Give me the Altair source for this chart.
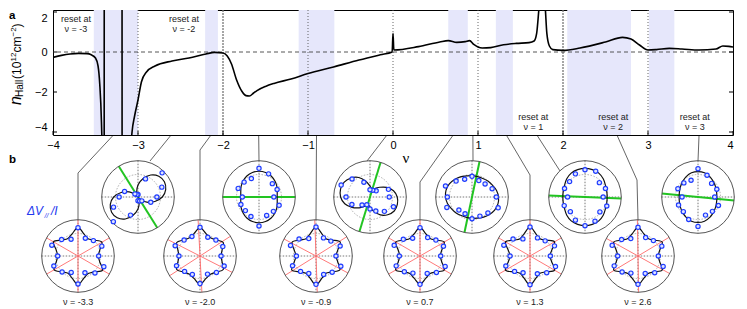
import math
import altair as alt
import pandas as pd

# ---------------- panel a : Hall density vs filling ----------------
NU = [-4.00, -3.90, -3.80, -3.70, -3.60, -3.55, -3.50, -3.47, -3.45, -3.43, -3.41, -3.40, -3.395,
      -3.19, -3.185, -3.10, -3.07, -3.04, -3.00, -2.96, -2.90, -2.80, -2.60, -2.40, -2.20, -2.10,
      -2.00, -1.95, -1.90, -1.84, -1.78, -1.73, -1.69, -1.64, -1.60, -1.50, -1.40, -1.20, -1.00,
      -0.70, -0.40, -0.15, -0.01, 0.00, 0.01, 0.30, 0.55, 0.65, 0.75, 0.85, 0.90, 0.95, 1.00,
      1.05, 1.15, 1.30, 1.45, 1.60, 1.66, 1.69, 1.72, 1.755, 1.79, 1.81, 1.84, 1.88, 2.00, 2.20,
      2.50, 2.70, 2.80, 2.90, 3.00, 3.10, 3.25, 3.40, 3.60, 3.80, 3.88, 3.95, 4.00]
N_HALL = [-0.27, -0.17, -0.10, -0.07, -0.08, -0.14, -0.30, -0.70, -1.60, -3.50, -8.0, -40.0, 40.0,
          40.0, -40.0, -6.0, -4.0, -3.2, -2.4, -1.5, -1.0, -0.70, -0.45, -0.30, -0.10, -0.02,
          -0.05, -0.20, -0.60, -1.40, -1.95, -2.18, -2.20, -2.05, -1.93, -1.72, -1.57, -1.35, -1.08,
          -0.75, -0.40, -0.14, 0.00, 0.93, 0.10, 0.27, 0.50, 0.57, 0.48, 0.52, 0.57, 0.38, 0.25,
          0.20, 0.22, 0.36, 0.43, 0.47, 0.55, 0.93, 2.30, 3.50, 2.30, 0.93, 0.30, 0.12, 0.08, 0.20,
          0.50, 0.73, 0.65, 0.35, 0.10, 0.12, 0.18, 0.15, 0.10, 0.15, 0.30, 0.28, 0.25]

BAND_START = [-3.52, -2.21, -1.11, 0.65, 1.21, 2.05, 3.01]
BAND_END = [-3.00, -2.06, -0.69, 0.88, 1.41, 2.80, 3.31]
GUIDE_NU = [-3, -2, -1, 0, 1, 2, 3]
GUIDE_KIND = ["dot", "dash", "dot", "dot", "dot", "dash", "dot"]
X_TICKS = [-4, -3, -2, -1, 0, 1, 2, 3, 4]
Y_TICKS = [2, 0, -2, -4]
RESET_NU = [-3.73, -2.46, 1.65, 2.59, 3.55]
RESET_LINE2 = ["ν = -3", "ν = -2", "ν = 1", "ν = 2", "ν = 3"]
RESET_N = [1.65, 1.65, -3.25, -3.25, -3.25]

# ---------------- panel b : polar insets (radius / outer radius) ----------------
DOT_ANG = [0, 22.5, 45, 67.5, 90, 112.5, 135, 157.5, 180, 202.5, 225, 247.5, 270, 292.5, 315, 337.5]
CURVE_ANG = [0, 15, 30, 45, 60, 75, 90, 105, 120, 135, 150, 165,
             180, 195, 210, 225, 240, 255, 270, 285, 300, 315, 330, 345]

BOT_LABELS = ["ν = -3.3", "ν = -2.0", "ν = -0.9", "ν = 0.7", "ν = 1.3", "ν = 2.6"]
BOT_RED_TILT = [0, 3, 2, 0, 0, 1]
BOT_CURVES = [
    [0.56, 0.62, 0.76, 0.62, 0.55, 0.63, 0.79, 0.63, 0.56, 0.62, 0.78, 0.62,
     0.56, 0.62, 0.76, 0.62, 0.55, 0.63, 0.79, 0.63, 0.56, 0.62, 0.78, 0.62],
    [0.58, 0.63, 0.74, 0.63, 0.58, 0.64, 0.78, 0.64, 0.58, 0.63, 0.74, 0.63,
     0.58, 0.63, 0.74, 0.63, 0.58, 0.64, 0.78, 0.64, 0.58, 0.63, 0.74, 0.63],
    [0.55, 0.62, 0.77, 0.62, 0.55, 0.63, 0.80, 0.63, 0.55, 0.62, 0.76, 0.62,
     0.55, 0.62, 0.77, 0.62, 0.55, 0.63, 0.80, 0.63, 0.55, 0.62, 0.76, 0.62],
    [0.56, 0.62, 0.77, 0.62, 0.56, 0.63, 0.78, 0.63, 0.56, 0.62, 0.77, 0.62,
     0.56, 0.62, 0.77, 0.62, 0.56, 0.63, 0.78, 0.63, 0.56, 0.62, 0.77, 0.62],
    [0.55, 0.62, 0.78, 0.62, 0.55, 0.63, 0.80, 0.63, 0.55, 0.62, 0.78, 0.62,
     0.55, 0.62, 0.78, 0.62, 0.55, 0.63, 0.80, 0.63, 0.55, 0.62, 0.78, 0.62],
    [0.56, 0.62, 0.77, 0.62, 0.56, 0.63, 0.79, 0.63, 0.56, 0.62, 0.77, 0.62,
     0.56, 0.62, 0.77, 0.62, 0.56, 0.63, 0.79, 0.63, 0.56, 0.62, 0.77, 0.62],
]
BOT_DOTS = [
    [0.57, 0.71, 0.60, 0.53, 0.78, 0.50, 0.64, 0.78, 0.56, 0.72, 0.62, 0.49, 0.77, 0.50, 0.66, 0.77],
    [0.58, 0.68, 0.62, 0.56, 0.79, 0.58, 0.62, 0.74, 0.58, 0.70, 0.60, 0.55, 0.76, 0.54, 0.64, 0.72],
    [0.55, 0.72, 0.58, 0.54, 0.80, 0.52, 0.66, 0.76, 0.54, 0.70, 0.60, 0.52, 0.78, 0.55, 0.63, 0.74],
    [0.57, 0.70, 0.62, 0.55, 0.78, 0.53, 0.65, 0.77, 0.57, 0.71, 0.61, 0.51, 0.78, 0.52, 0.64, 0.75],
    [0.56, 0.73, 0.59, 0.54, 0.80, 0.51, 0.66, 0.78, 0.55, 0.72, 0.60, 0.50, 0.79, 0.53, 0.65, 0.76],
    [0.56, 0.71, 0.60, 0.55, 0.79, 0.52, 0.64, 0.77, 0.56, 0.71, 0.62, 0.51, 0.78, 0.52, 0.65, 0.75],
]

TOP_GREEN = [122, 0, 73, 78, -2.5, -5.5]
TOP_CURVES = [
    [0.67, 0.79, 0.84, 0.81, 0.70, 0.52, 0.33, 0.14, 0.03, 0.10, 0.28, 0.48,
     0.67, 0.79, 0.84, 0.81, 0.70, 0.52, 0.33, 0.14, 0.03, 0.10, 0.28, 0.48],
    [0.50, 0.52, 0.57, 0.62, 0.67, 0.70, 0.71, 0.70, 0.67, 0.62, 0.57, 0.52,
     0.50, 0.52, 0.57, 0.62, 0.67, 0.70, 0.71, 0.70, 0.67, 0.62, 0.57, 0.52],
    [0.75, 0.67, 0.53, 0.38, 0.27, 0.22, 0.30, 0.45, 0.62, 0.74, 0.82, 0.84,
     0.81, 0.72, 0.57, 0.42, 0.30, 0.22, 0.28, 0.41, 0.57, 0.69, 0.77, 0.78],
    [0.73, 0.70, 0.65, 0.62, 0.59, 0.58, 0.59, 0.60, 0.64, 0.68, 0.72, 0.74,
     0.73, 0.70, 0.65, 0.62, 0.59, 0.58, 0.59, 0.60, 0.64, 0.68, 0.72, 0.74],
    [0.61, 0.62, 0.65, 0.71, 0.76, 0.78, 0.79, 0.78, 0.76, 0.71, 0.65, 0.62,
     0.61, 0.62, 0.65, 0.71, 0.76, 0.78, 0.79, 0.78, 0.76, 0.71, 0.65, 0.62],
    [0.52, 0.53, 0.56, 0.60, 0.65, 0.69, 0.70, 0.69, 0.65, 0.60, 0.56, 0.53,
     0.52, 0.53, 0.56, 0.60, 0.65, 0.69, 0.70, 0.69, 0.65, 0.60, 0.56, 0.53],
]
TOP_DOTS = [
    [0.52, 0.71, 0.94, 0.54, 0.07, 0.07, 0.12, 0.40, 0.52, 0.73, 0.96, 0.54, 0.10, 0.12, 0.15, 0.38],
    [0.41, 0.54, 0.52, 0.69, 0.79, 0.55, 0.58, 0.62, 0.46, 0.54, 0.53, 0.58, 0.80, 0.55, 0.56, 0.60],
    [0.53, 0.55, 0.24, 0.20, 0.20, 0.44, 0.70, 0.86, 0.66, 0.54, 0.31, 0.23, 0.33, 0.42, 0.56, 0.70],
    [0.67, 0.60, 0.51, 0.49, 0.57, 0.53, 0.62, 0.79, 0.68, 0.75, 0.51, 0.50, 0.60, 0.57, 0.62, 0.78],
    [0.50, 0.61, 0.56, 0.77, 0.75, 0.69, 0.60, 0.61, 0.48, 0.62, 0.57, 0.69, 0.79, 0.72, 0.58, 0.65],
    [0.46, 0.56, 0.53, 0.65, 0.78, 0.50, 0.55, 0.60, 0.44, 0.58, 0.57, 0.67, 0.81, 0.54, 0.56, 0.61],
]

# axis positions where the insets are attached
BOT_ATTACH_NU = [-3.3, -2.15, -0.9, 0.7, 1.34, 2.64]
TOP_ATTACH_NU = [-2.62, -1.58, -0.08, 0.94, 1.70, 3.60]

# ---------------- layout (pixels on the page) ----------------
PLOT_W, PLOT_H = 680, 125
LEFT, TOP = 53, 10
PX_NU = PLOT_W / 8.0
PX_N = PLOT_H / 6.25
R = 36.3
INNER = 0.62
TOP_CY, BOT_CY = 197, 256
TOP_CX = [138, 259, 370, 472, 585, 698]
BOT_CX = [78, 200, 316, 420, 530, 638]
AXIS_PY = 136
BOT_BEND = [(78, 173), (200, 150), None, (420, 182), (530, 175), (637, 180)]
TOP_END = [(150, 161), (259, 161), (367, 161), (473, 161), (560, 171), (698, 161)]
FONT = "Liberation Sans"


def to_x(px):
    return (px - LEFT) / PX_NU - 4.0


def to_y(py):
    return 2.1 - (py - TOP) / PX_N


def nu_px(nu):
    return LEFT + (nu + 4.0) * PX_NU


XS = alt.Scale(domain=[-4, 4], nice=False, zero=False)
YS = alt.Scale(domain=[-4.15, 2.1], nice=False, zero=False)
XAX = alt.Axis(values=X_TICKS, title=None, grid=False, ticks=False, domain=False,
               labelFont=FONT, labelFontSize=11, labelColor="#000", labelPadding=4,
               labelFlush=False,
               labelAlign={"condition": {"test": "datum.value == 4", "value": "right"}, "value": "center"})
YAX = alt.Axis(values=Y_TICKS, title=None, grid=False, ticks=False, domain=False,
               labelFont=FONT, labelFontSize=11, labelColor="#000", labelPadding=6, labelFlush=3)


def X(f="x"):
    return alt.X(f + ":Q", scale=XS, axis=XAX)


def Y(f="y"):
    return alt.Y(f + ":Q", scale=YS, axis=YAX)


layers = []

# bands
bands = pd.DataFrame({"x": BAND_START, "x2": BAND_END})
layers.append(alt.Chart(bands).mark_rect(color="#e6e7fb").encode(
    x=X(), x2="x2:Q", y=alt.value(0), y2=alt.value(PLOT_H)))

# vertical guides
guides = pd.DataFrame({"x": GUIDE_NU, "kind": GUIDE_KIND})
layers.append(alt.Chart(guides).transform_filter("datum.kind == 'dot'").mark_rule(
    color="#555", strokeWidth=0.9, strokeDash=[1, 2]).encode(x=X()))
layers.append(alt.Chart(guides).transform_filter("datum.kind == 'dash'").mark_rule(
    color="#777", strokeWidth=1.3, strokeDash=[2, 1]).encode(x=X()))

# zero line
layers.append(alt.Chart(pd.DataFrame({"y": [0]})).mark_rule(
    color="#444", strokeWidth=0.9, strokeDash=[4, 3]).encode(y=Y()))

# curve
curve = pd.DataFrame({"x": NU, "y": N_HALL, "i": list(range(len(NU)))})
layers.append(alt.Chart(curve).mark_line(color="#000", strokeWidth=1.6, clip=True,
                                          interpolate="monotone").encode(
    x=X(), y=Y(), order="i:Q"))

# inward ticks
tick_rows = []
for v in Y_TICKS:
    tick_rows.append({"x": -4, "x2": -4 + 4 / PX_NU, "y": v, "y2": v})
    tick_rows.append({"x": 4, "x2": 4 - 4 / PX_NU, "y": v, "y2": v})
for v in X_TICKS:
    tick_rows.append({"x": v, "x2": v, "y": -4.15, "y2": -4.15 + 4 / PX_N})
layers.append(alt.Chart(pd.DataFrame(tick_rows)).mark_rule(color="#000", strokeWidth=1).encode(
    x=X(), x2="x2:Q", y=Y(), y2="y2:Q"))

# reset annotations
reset_rows = []
for nu, t2, n in zip(RESET_NU, RESET_LINE2, RESET_N):
    reset_rows.append({"x": nu, "y": n, "t": "reset at"})
    reset_rows.append({"x": nu, "y": n - 9.5 / PX_N, "t": t2})
layers.append(alt.Chart(pd.DataFrame(reset_rows)).mark_text(
    font=FONT, fontSize=9, color="#222").encode(x=X(), y=Y(), text="t:N"))

# ---------------- insets ----------------
curve_rows, dot_rows, cross_rows, red_rows, green_rows, circ_rows = [], [], [], [], [], []


def polar(cx, cy, r, ang):
    a = math.radians(ang)
    return cx + r * R * math.cos(a), cy - r * R * math.sin(a)


def add_inset(name, cx, cy, cvals, dvals):
    circ_rows.append({"x": to_x(cx), "y": to_y(cy)})
    for k, (a, r) in enumerate(zip(CURVE_ANG, cvals)):
        px, py = polar(cx, cy, r, a)
        curve_rows.append({"plot": name, "i": k, "x": to_x(px), "y": to_y(py)})
    for a, r in zip(DOT_ANG, dvals):
        px, py = polar(cx, cy, r, a)
        dot_rows.append({"x": to_x(px), "y": to_y(py)})
    cross_rows.append({"x": to_x(cx - R), "x2": to_x(cx + R), "y": to_y(cy), "y2": to_y(cy)})
    cross_rows.append({"x": to_x(cx), "x2": to_x(cx), "y": to_y(cy - R), "y2": to_y(cy + R)})


def diameter(cx, cy, ang):
    p1 = polar(cx, cy, 1.0, ang)
    p2 = polar(cx, cy, 1.0, ang + 180)
    return {"x": to_x(p1[0]), "y": to_y(p1[1]), "x2": to_x(p2[0]), "y2": to_y(p2[1])}


for j in range(6):
    add_inset("b%d" % j, BOT_CX[j], BOT_CY, BOT_CURVES[j], BOT_DOTS[j])
    for base in (90, 30, 150):
        red_rows.append(diameter(BOT_CX[j], BOT_CY, base + BOT_RED_TILT[j]))
    add_inset("t%d" % j, TOP_CX[j], TOP_CY, TOP_CURVES[j], TOP_DOTS[j])
    green_rows.append(diameter(TOP_CX[j], TOP_CY, TOP_GREEN[j]))

# connectors
conn_rows = []
for j in range(6):
    pts = [(nu_px(BOT_ATTACH_NU[j]), AXIS_PY)]
    if BOT_BEND[j] is not None:
        pts.append(BOT_BEND[j])
    pts.append((BOT_CX[j], BOT_CY - R))
    for k, (px, py) in enumerate(pts):
        conn_rows.append({"c": "b%d" % j, "i": k, "x": to_x(px), "y": to_y(py)})
    pts = [(nu_px(TOP_ATTACH_NU[j]), AXIS_PY), TOP_END[j]]
    for k, (px, py) in enumerate(pts):
        conn_rows.append({"c": "t%d" % j, "i": k, "x": to_x(px), "y": to_y(py)})

layers.append(alt.Chart(pd.DataFrame(conn_rows)).mark_line(color="#555", strokeWidth=0.9).encode(
    x=X(), y=Y(), detail="c:N", order="i:Q"))

circ = pd.DataFrame(circ_rows)
layers.append(alt.Chart(circ).mark_point(shape="circle", filled=True, size=(2 * R) ** 2,
                                         color="#fff", opacity=1).encode(x=X(), y=Y()))
layers.append(alt.Chart(circ).mark_point(shape="circle", filled=False, size=(2 * R * INNER) ** 2,
                                         color="#999", strokeWidth=0.8, strokeDash=[1.5, 1.5],
                                         opacity=1).encode(x=X(), y=Y()))
layers.append(alt.Chart(pd.DataFrame(cross_rows)).mark_rule(
    color="#555", strokeWidth=0.8, strokeDash=[1.5, 1.5]).encode(x=X(), x2="x2:Q", y=Y(), y2="y2:Q"))
layers.append(alt.Chart(pd.DataFrame(red_rows)).mark_rule(
    color="#ff6a6a", strokeWidth=0.9).encode(x=X(), x2="x2:Q", y=Y(), y2="y2:Q"))
layers.append(alt.Chart(pd.DataFrame(green_rows)).mark_rule(
    color="#22c422", strokeWidth=2).encode(x=X(), x2="x2:Q", y=Y(), y2="y2:Q"))
layers.append(alt.Chart(pd.DataFrame(curve_rows)).mark_line(
    color="#111", strokeWidth=1.2, interpolate="cardinal-closed").encode(
    x=X(), y=Y(), detail="plot:N", order="i:Q"))
layers.append(alt.Chart(circ).mark_point(shape="circle", filled=False, size=(2 * R) ** 2,
                                         color="#555", strokeWidth=1, opacity=1).encode(x=X(), y=Y()))
layers.append(alt.Chart(pd.DataFrame(dot_rows)).mark_point(
    shape="circle", filled=True, fill="#dfe4ff", stroke="#1f3cff", strokeWidth=1.2, size=18,
    opacity=1).encode(x=X(), y=Y()))

# inset labels
lab = pd.DataFrame({"x": [to_x(c) for c in BOT_CX], "y": [to_y(302)] * 6, "t": BOT_LABELS})
layers.append(alt.Chart(lab).mark_text(font=FONT, fontSize=9, color="#222").encode(
    x=X(), y=Y(), text="t:N"))

# panel letters, x title, inset quantity label
misc = pd.DataFrame([
    {"x": to_x(9), "y": to_y(18.5), "t": "a"},
    {"x": to_x(9), "y": to_y(163), "t": "b"},
])
layers.append(alt.Chart(misc).mark_text(font=FONT, fontSize=11.5, fontWeight="bold", align="left",
                                        baseline="alphabetic", color="#000").encode(
    x=X(), y=Y(), text="t:N"))
layers.append(alt.Chart(pd.DataFrame([{"x": to_x(406), "y": to_y(163), "t": "ν"}])).mark_text(
    font="Liberation Serif", fontSize=15, align="center", baseline="alphabetic", color="#000").encode(
    x=X(), y=Y(), text="t:N"))

dv = pd.DataFrame([
    {"x": to_x(27), "y": to_y(215), "t": "ΔV", "s": "big"},
    {"x": to_x(44.5), "y": to_y(218), "t": "//", "s": "small"},
    {"x": to_x(51), "y": to_y(215), "t": "/I", "s": "big"},
])
layers.append(alt.Chart(dv).transform_filter("datum.s == 'big'").mark_text(
    font=FONT, fontSize=12, fontStyle="italic", align="left", baseline="alphabetic",
    color="#2238ee").encode(x=X(), y=Y(), text="t:N"))
layers.append(alt.Chart(dv).transform_filter("datum.s == 'small'").mark_text(
    font=FONT, fontSize=7, fontStyle="italic", align="left", baseline="alphabetic",
    color="#2238ee").encode(x=X(), y=Y(), text="t:N"))

# rotated y title pieces
yt = pd.DataFrame([
    {"x": to_x(21), "y": to_y(105), "t": "n", "k": "n"},
    {"x": to_x(23), "y": to_y(97), "t": "Hall", "k": "sub"},
    {"x": to_x(21), "y": to_y(79), "t": "(10", "k": "main"},
    {"x": to_x(16), "y": to_y(61.5), "t": "12", "k": "sup"},
    {"x": to_x(21), "y": to_y(52.5), "t": "cm", "k": "main"},
    {"x": to_x(16), "y": to_y(36.5), "t": "−2", "k": "sup"},
    {"x": to_x(21), "y": to_y(27.5), "t": ")", "k": "main"},
])
for k, size, style in [("n", 16, "italic"), ("sub", 10, "normal"), ("main", 12, "normal"), ("sup", 8, "normal")]:
    layers.append(alt.Chart(yt).transform_filter("datum.k == '%s'" % k).mark_text(
        font=FONT, fontSize=size, fontStyle=style, angle=270, align="left", baseline="alphabetic",
        color="#000").encode(x=X(), y=Y(), text="t:N"))

chart = alt.layer(*layers).properties(
    width=PLOT_W, height=PLOT_H,
    autosize=alt.AutoSizeParams(type="none"),
    padding={"left": LEFT - 8, "top": TOP - 8, "right": 6, "bottom": 172},
).configure_view(stroke="#000", strokeWidth=1)

chart.save("out.html", embed_options={"renderer": "svg", "actions": False})
